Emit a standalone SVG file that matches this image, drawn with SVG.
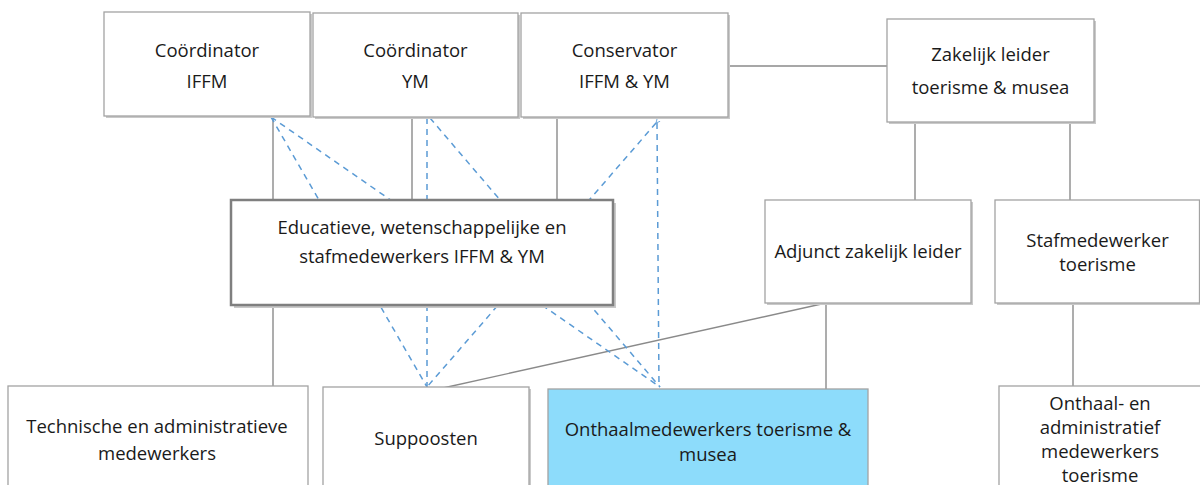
<svg xmlns="http://www.w3.org/2000/svg" width="1200" height="485" viewBox="0 0 1200 485">
<defs>
<style>
.box{fill:#ffffff;stroke:#a3a3a3;stroke-width:1.3}
.shadow{fill:#c9c9c9}
.edu{fill:#ffffff;stroke:#7f7f7f;stroke-width:2.5}
.blue{fill:#8ddcfb;stroke:#a3a3a3;stroke-width:1.3}
.t{font-family:"Open Sans","Liberation Sans",sans-serif;font-size:18.5px;fill:#1a1a1a;text-anchor:middle}
.solid{stroke:#8a8a8a;stroke-width:1.4;fill:none}
.dash{stroke:#5b9bd5;stroke-width:1.5;stroke-dasharray:6 5;fill:none}
</style>
<marker id="arr" viewBox="0 0 10 10" refX="1" refY="5" markerWidth="5" markerHeight="5" orient="auto-start-reverse" markerUnits="userSpaceOnUse">
<path d="M9,1 L1,5 L9,9" fill="none" stroke="#5b9bd5" stroke-width="1.6"/>
</marker>
</defs>
<rect width="1200" height="485" fill="#ffffff"/>
<g id="connectors">
<line class="solid" x1="728" y1="66" x2="887" y2="66"/>
<line class="solid" x1="273" y1="116" x2="273" y2="200"/>
<line class="solid" x1="412" y1="117" x2="412" y2="200"/>
<line class="solid" x1="557" y1="117" x2="557" y2="200"/>
<line class="solid" x1="273" y1="305" x2="273" y2="386"/>
<line class="solid" x1="915" y1="122" x2="915" y2="200"/>
<line class="solid" x1="1070" y1="122" x2="1070" y2="200"/>
<line class="solid" x1="826" y1="303" x2="826" y2="389"/>
<line class="solid" x1="826" y1="303" x2="443" y2="388"/>
<line class="solid" x1="1073" y1="303" x2="1073" y2="386"/>
<line class="dash" x1="271" y1="117" x2="427" y2="387" marker-start="url(#arr)"/>
<line class="dash" x1="271" y1="117" x2="660" y2="387" marker-start="url(#arr)"/>
<line class="dash" x1="427" y1="118" x2="427" y2="387"/>
<line class="dash" x1="430" y1="118" x2="660" y2="387"/>
<line class="dash" x1="656" y1="123" x2="427" y2="387" marker-start="url(#arr)"/>
<line class="dash" x1="657" y1="123" x2="659" y2="387"/>
</g>
<g id="coordinator-iffm">
<rect class="shadow" x="106" y="14" width="206" height="104"/>
<rect class="box" x="104" y="12" width="206" height="104"/>
<text class="t" x="207" y="57">Coördinator</text>
<text class="t" x="207" y="88">IFFM</text>
</g>
<g id="coordinator-ym">
<rect class="shadow" x="315" y="15" width="205" height="104"/>
<rect class="box" x="313" y="13" width="205" height="104"/>
<text class="t" x="415.5" y="57">Coördinator</text>
<text class="t" x="415.5" y="88">YM</text>
</g>
<g id="conservator">
<rect class="shadow" x="523" y="15" width="207" height="104"/>
<rect class="box" x="521" y="13" width="207" height="104"/>
<text class="t" x="624.5" y="57">Conservator</text>
<text class="t" x="624.5" y="88">IFFM &amp; YM</text>
</g>
<g id="zakelijk-leider">
<rect class="shadow" x="889" y="21" width="207" height="103"/>
<rect class="box" x="887" y="19" width="207" height="103"/>
<text class="t" x="990.5" y="61">Zakelijk leider</text>
<text class="t" x="990.5" y="94">toerisme &amp; musea</text>
</g>
<g id="educatieve">
<rect class="shadow" x="234" y="203" width="382" height="105"/>
<rect class="edu" x="231" y="200" width="382" height="105"/>
<text class="t" x="422" y="234">Educatieve, wetenschappelijke en</text>
<text class="t" x="422" y="263">stafmedewerkers IFFM &amp; YM</text>
</g>
<g id="adjunct">
<rect class="shadow" x="767" y="202" width="206" height="103"/>
<rect class="box" x="765" y="200" width="206" height="103"/>
<text class="t" x="868" y="258">Adjunct zakelijk leider</text>
</g>
<g id="stafmedewerker-toerisme">
<rect class="shadow" x="997" y="202" width="205" height="103"/>
<rect class="box" x="995" y="200" width="204.5" height="103"/>
<text class="t" x="1097.5" y="247">Stafmedewerker</text>
<text class="t" x="1097.5" y="271">toerisme</text>
</g>
<g id="technische">
<rect class="box" x="8" y="386" width="300" height="110"/>
<text class="t" x="157" y="433">Technische en administratieve</text>
<text class="t" x="157" y="460">medewerkers</text>
</g>
<g id="suppoosten">
<rect class="shadow" x="325" y="389" width="206" height="110"/>
<rect class="box" x="323" y="387" width="206" height="110"/>
<text class="t" x="426" y="445">Suppoosten</text>
</g>
<g id="onthaalmedewerkers">
<rect class="blue" x="548" y="389" width="320" height="110"/>
<text class="t" x="708" y="436">Onthaalmedewerkers toerisme &amp;</text>
<text class="t" x="708" y="461">musea</text>
</g>
<g id="onthaal-administratief">
<rect class="box" x="999" y="386" width="210" height="110"/>
<text class="t" x="1100" y="410">Onthaal- en</text>
<text class="t" x="1100" y="434">administratief</text>
<text class="t" x="1100" y="458">medewerkers</text>
<text class="t" x="1100" y="482">toerisme</text>
</g>
</svg>
